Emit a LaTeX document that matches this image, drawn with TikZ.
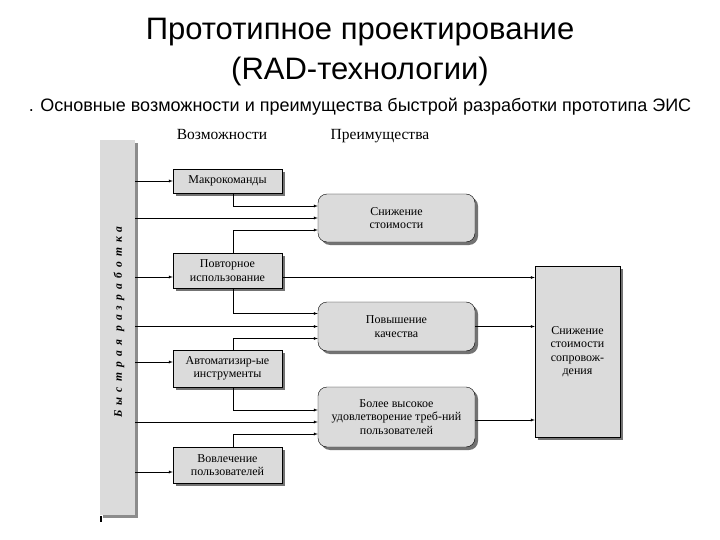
\documentclass[tikz,border=0pt]{standalone}
\usepackage{fontspec}
\setmainfont{Liberation Serif}
\newfontfamily\arialfont{Liberation Sans}
\newfontfamily\spacedfont[LetterSpace=45]{Liberation Serif}
\usetikzlibrary{shadows}

\begin{document}
\begin{tikzpicture}[x=1pt,y=-1pt,>=latex,
  shade/.style={drop shadow={shadow xshift=3pt,shadow yshift=-3pt,opacity=1,fill=black!55}},
  feat/.style={draw,fill=black!14,shade,minimum width=109pt,align=center,inner sep=1pt,font=\fontsize{12}{13.5}\selectfont},
  gain/.style={feat,rounded corners=9pt,minimum width=157pt},
  head/.style={anchor=base,font=\fontsize{15.5}{17}\selectfont},
  link/.style={->}]
\useasboundingbox (0,0) rectangle (720,540);
% titles
\node[font=\arialfont\fontsize{31}{40}\selectfont,align=center] (title) at (360,52) {Прототипное проектирование\\(RAD-технологии)};
\node[font=\arialfont\fontsize{18}{20}\selectfont] (sub) at (360,107) {. Основные возможности и преимущества быстрой разработки прототипа ЭИС};
\node[head] (hpos) at (222,140) {Возможности};
\node[head] (hgain) at (380,140) {Преимущества};
% left bar
\node[fill=black!14,drop shadow={shadow xshift=3pt,shadow yshift=-3pt,opacity=1,fill=black!45},minimum width=35pt,minimum height=375pt,inner sep=0pt] (bar) at (117.5,327.5) {};
\node[rotate=90,font=\spacedfont\bfseries\itshape\fontsize{11.5}{12}\selectfont] (rad) at (119,322) {Быстрая разработка};
\draw[line width=1.5pt] (101,516) -- (101,522);
% possibilities
\node[feat,minimum height=24pt] (mac) at (227.5,181) {Макрокоманды};
\node[feat,minimum height=35pt] (rep) at (227.5,270.5) {Повторное\\использование};
\node[feat,minimum height=37pt] (auto) at (227.5,368.5) {Автоматизир-ые\\инструменты};
\node[feat,minimum height=36pt] (vov) at (227.5,465) {Вовлечение\\пользователей};
% advantages
\node[gain,minimum height=48pt] (cost) at (396.5,218) {Снижение\\стоимости};
\node[gain,minimum height=49pt] (qual) at (396.5,326.5) {Повышение\\качества};
\node[gain,minimum height=60pt] (user) at (396.5,417) {Более высокое\\удовлетворение треб-ний\\пользователей};
\node[feat,minimum width=85pt,minimum height=171pt] (big) at (577.5,351.5) {Снижение\\стоимости\\сопровож-\\дения};
% link ends
\coordinate (tx) at (233,0);
\coordinate (repin) at ([yshift=-6.5pt]rep.west);
\coordinate (repout) at ([yshift=-7pt]rep.east);
\coordinate (autoin) at ([yshift=6.5pt]auto.west);
\coordinate (vovin) at ([yshift=-7pt]vov.west);
\coordinate (userin) at ([yshift=-5pt]user.west);
\coordinate (userout) at ([yshift=-3pt]user.east);
% links
\draw[link] (bar.east |- mac.west) -- (mac.west);
\draw[link] (mac.south -| tx) |- ([yshift=12pt]cost.west);
\draw[link] (bar.east |- cost.west) -- (cost.west);
\draw[link] (rep.north -| tx) |- ([yshift=-12pt]cost.west);
\draw[link] (bar.east |- repin) -- (repin);
\draw[link] (repout) -- (repout -| big.west);
\draw[link] (rep.south -| tx) |- ([yshift=13pt]qual.west);
\draw[link] (bar.east |- qual.west) -- (qual.west);
\draw[link] (auto.north -| tx) |- ([yshift=-12pt]qual.west);
\draw[link] (qual.east) -- (qual.east -| big.west);
\draw[link] (bar.east |- autoin) -- (autoin);
\draw[link] (auto.south -| tx) |- ([yshift=7pt]user.west);
\draw[link] (bar.east |- userin) -- (userin);
\draw[link] (vov.north -| tx) |- ([yshift=-17pt]user.west);
\draw[link] (userout) -- (userout -| big.west);
\draw[link] (bar.east |- vovin) -- (vovin);
\end{tikzpicture}
\end{document}
